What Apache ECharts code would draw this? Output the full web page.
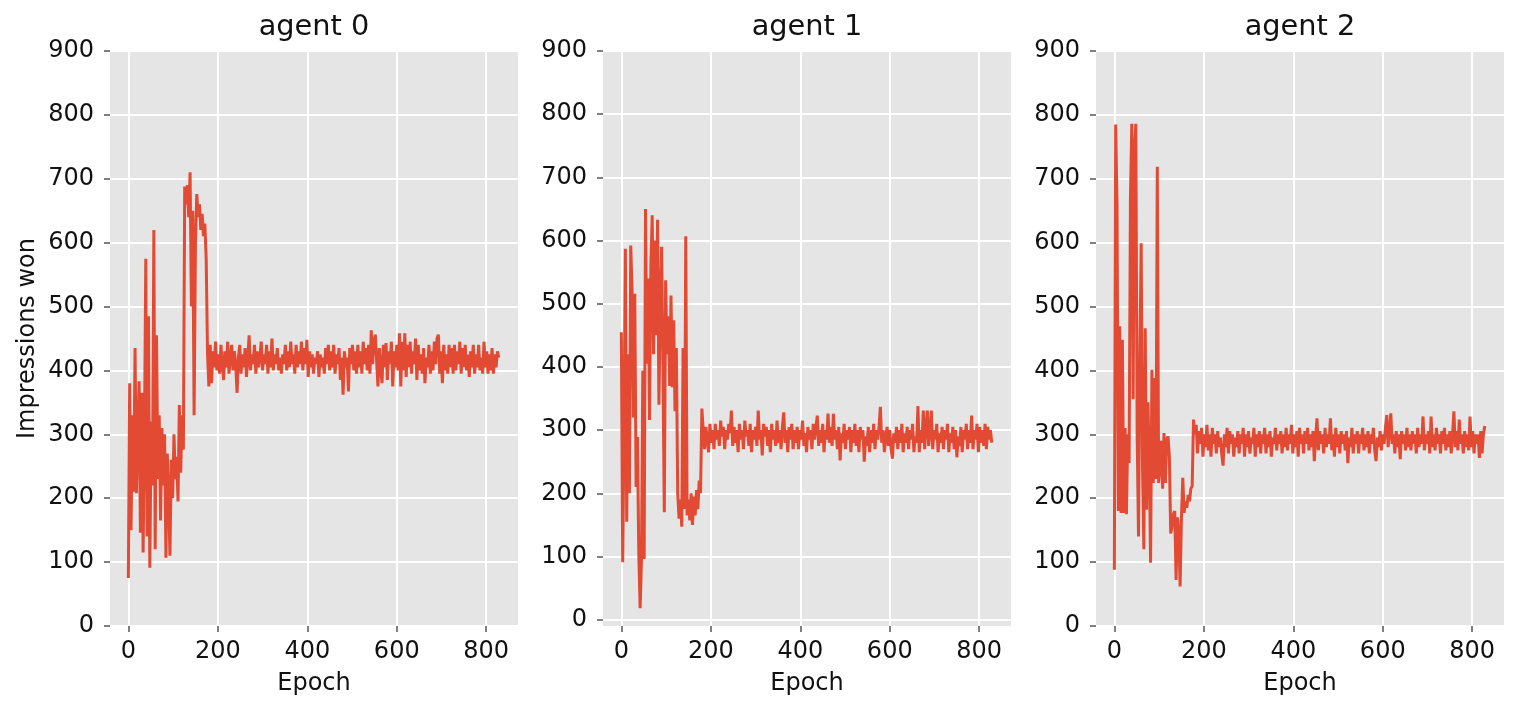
<!DOCTYPE html>
<html>
<head>
<meta charset="utf-8">
<script src="https://cdn.jsdelivr.net/npm/echarts@6/dist/echarts.min.js"></script>
<style>
html,body{margin:0;padding:0;background:#fff;}
#chart{width:1528px;height:714px;}
</style>
</head>
<body>
<div id="chart"></div>
<script>
const epochStep = 3;
const titles = ['agent 0', 'agent 1', 'agent 2'];
const xTicks = [0, 200, 400, 600, 800];
const yTicks = [0, 100, 200, 300, 400, 500, 600, 700, 800, 900];
const yLabel = 'Impressions won';
const xLabel = 'Epoch';

const agent0 = [
  // 0 - 27
  75, 380, 150, 330, 210, 435, 208, 300, 383, 146,
  // 30 - 57
  365, 115, 300, 575, 140, 485, 91, 320, 220, 620,
  // 60 - 87
  120, 455, 230, 330, 165, 310, 220, 300, 107, 270,
  // 90 - 117
  210, 110, 260, 200, 300, 230, 265, 195, 346, 240,
  // 120 - 147
  330, 276, 688, 660, 690, 640, 710, 500, 650, 330,
  // 150 - 177
  600, 676, 640, 660, 620, 645, 610, 630, 575, 427,
  // 180
  375,
  // 183 - 210
  440, 380, 430, 405, 445, 400, 425, 395, 440, 410,
  385, 430, 405, 445, 395, 420, 440, 400, 430, 410,
  365, 420, 440, 395, 425, 405, 435, 390, 420, 455,
  400, 425, 410, 440, 395, 430, 405, 420, 445, 400,
  425, 410, 440, 395, 430, 405, 450, 400, 425, 410,
  435, 400, 420, 395, 425, 410, 440, 400, 430, 405,
  445, 410, 425, 395, 440, 405, 430, 410, 445, 400,
  435, 410, 448, 390, 430, 405, 425, 395, 420, 410,
  430, 390, 425, 405, 420, 395, 435, 410, 440, 400,
  430, 405, 440, 395, 425, 410, 435, 385, 420, 362,
  430, 405, 420, 367, 435, 410, 440, 400, 430, 395,
  440, 405, 430, 395, 445, 410, 435, 400, 440, 395,
  463, 410, 445, 456, 415, 375, 435, 405, 380, 440,
  405, 443, 385, 430, 410, 445, 375, 430, 405, 440,
  400, 458, 375, 445, 400, 458, 390, 440, 405, 445,
  395, 430, 410, 450, 385, 440, 400, 425, 395, 435,
  380, 420, 405, 440, 395, 430, 400, 445, 410, 450,
  456, 395, 430, 380, 440, 400, 425, 395, 440, 405,
  435, 395, 440, 400, 430, 410, 445, 395, 435, 405,
  440, 400, 425, 390, 430, 405, 440, 395, 425, 405,
  440, 400, 420, 395, 445, 405, 430, 395, 425, 400,
  // 813 - 828
  435, 395, 425, 405, 430, 420
];

const agent1 = [
  455, 91, 300, 587, 155, 420, 200, 592, 520, 320,
  516, 210, 289, 104, 18, 95, 394, 96, 650, 405,
  540, 316, 560, 640, 420, 600, 450, 633, 340, 500,
  590, 400, 170, 537, 420, 480, 370, 513, 368, 474,
  330, 430, 200, 160, 190, 147, 430, 175, 607, 165,
  190, 157, 200, 150, 195, 165, 205, 175, 220, 200,
  334,
  300, 270, 305, 285, 265, 310, 280, 300, 270, 310,
  285, 300, 275, 315, 290, 305, 270, 300, 285, 310,
  295, 331, 275, 305, 280, 300, 265, 310, 285, 300,
  270, 315, 290, 300, 275, 310, 265, 300, 285, 305,
  275, 331, 285, 300, 260, 310, 290, 305, 275, 300,
  265, 310, 285, 300, 275, 315, 280, 300, 270, 305,
  328, 280, 300, 265, 305, 285, 310, 270, 300, 280,
  305, 270, 300, 285, 315, 275, 295, 265, 305, 285,
  300, 270, 310, 285, 305, 323, 275, 300, 280, 310,
  265, 300, 285, 326, 280, 305, 275, 326, 285, 300,
  270, 305, 252, 295, 280, 310, 270, 300, 285, 305,
  265, 300, 280, 310, 275, 300, 265, 305, 285, 300,
  250, 290, 275, 305, 265, 300, 280, 310, 270, 300,
  285, 305, 337, 280, 300, 265, 290, 305, 275, 300,
  270, 255, 295, 280, 305, 270, 300, 280, 310, 265,
  295, 280, 305, 270, 300, 285, 310, 265, 290, 280,
  338, 265, 300, 280, 331, 270, 305, 331, 275, 300,
  331, 270, 300, 285, 310, 265, 295, 280, 305, 270,
  300, 285, 310, 265, 295, 280, 305, 270, 300, 257,
  290, 275, 305, 265, 300, 285, 310, 270, 300, 280,
  323, 270, 300, 285, 310, 265, 305, 280, 300, 275,
  310, 270, 305, 285, 300, 280
];

const agent2 = [
  88, 785, 660, 180, 469, 177, 448, 177, 310, 175,
  300, 255, 672, 786, 355, 750, 786, 300, 140, 420,
  599, 250, 120, 466, 182, 350, 265, 99, 401, 224,
  388, 230, 719, 224, 250, 290, 215, 302, 224, 290,
  297, 265, 145, 156, 175, 180, 72, 170, 150, 62,
  170, 232, 177, 195, 185, 205, 195, 215, 219, 323,
  300,
  315, 270, 305, 285, 310, 265, 300, 280, 315, 275,
  300, 265, 310, 285, 300, 270, 305, 280, 295, 270,
  251, 300, 280, 310, 270, 305, 285, 300, 265, 295,
  280, 305, 270, 300, 285, 310, 265, 300, 280, 305,
  270, 295, 285, 310, 265, 300, 280, 305, 270, 300,
  285, 310, 270, 300, 280, 305, 265, 295, 285, 310,
  275, 300, 285, 305, 270, 300, 280, 310, 275, 300,
  285, 315, 270, 300, 280, 305, 265, 310, 285, 300,
  270, 305, 285, 310, 275, 300, 280, 305, 258, 295,
  325, 275, 305, 285, 300, 270, 310, 280, 300, 285,
  325, 275, 300, 265, 310, 280, 300, 270, 305, 285,
  300, 275, 305, 255, 295, 280, 310, 270, 300, 285,
  305, 270, 300, 285, 310, 275, 300, 280, 305, 270,
  300, 285, 310, 275, 258, 295, 280, 305, 275, 300,
  285, 310, 330, 280, 305, 333, 285, 300, 270, 305,
  280, 300, 261, 305, 285, 300, 275, 310, 280, 300,
  275, 305, 285, 300, 270, 310, 280, 300, 285, 328,
  275, 300, 285, 305, 270, 328, 280, 300, 275, 310,
  285, 300, 270, 305, 285, 310, 275, 300, 280, 305,
  270, 300, 336, 280, 305, 275, 323, 285, 300, 270,
  305, 280, 300, 275, 328, 280, 305, 270, 300, 285,
  300, 263, 305, 270, 300, 313
];

const seriesValues = [agent0, agent1, agent2];

// ---- layout / style ----
const FONT = 'DejaVu Sans';
const TEXT = '#111111';
const gridLefts = [110, 603, 1096];
const gridTop = 51, gridW = 408, gridH = 575;
const yMins = [0, -10, 0];

const chart = echarts.init(document.getElementById('chart'), null, {renderer: 'canvas'});

const option = {
  animation: false,
  backgroundColor: '#ffffff',
  title: titles.map((t, i) => ({
    text: t,
    left: gridLefts[i] + gridW / 2,
    top: 13,
    textAlign: 'center',
    padding: 0,
    textStyle: {fontFamily: FONT, fontSize: 28.8, fontWeight: 'normal', color: TEXT}
  })),
  grid: gridLefts.map(l => ({
    left: l, top: gridTop, width: gridW, height: gridH,
    show: true, backgroundColor: '#E5E5E5', borderWidth: 0, containLabel: false
  })),
  xAxis: gridLefts.map((l, i) => ({
    gridIndex: i, type: 'value', min: -41, max: 871, splitNumber: 5,
    axisLine: {show: false, onZero: false},
    axisTick: {show: true, customValues: xTicks, length: 6, lineStyle: {color: '#555', width: 1.5}},
    axisLabel: {customValues: xTicks, margin: 14, fontSize: 24, fontFamily: FONT, color: TEXT},
    splitLine: {show: true, lineStyle: {color: '#ffffff', width: 2}},
    name: xLabel, nameLocation: 'middle', nameGap: 46,
    nameTextStyle: {fontSize: 24, fontFamily: FONT, color: TEXT}
  })),
  yAxis: gridLefts.map((l, i) => ({
    gridIndex: i, type: 'value', min: yMins[i], max: 900, splitNumber: 9,
    axisLine: {show: false, onZero: false},
    axisTick: {show: true, customValues: yTicks, length: 6, lineStyle: {color: '#555', width: 1.5}},
    axisLabel: {customValues: yTicks, margin: 16, fontSize: 24, fontFamily: FONT, color: TEXT},
    splitLine: {show: true, lineStyle: {color: '#ffffff', width: 2}},
    name: i === 0 ? yLabel : '', nameLocation: 'middle', nameGap: 70,
    nameTextStyle: {fontSize: 24, fontFamily: FONT, color: TEXT}
  })),
  series: seriesValues.map((vals, i) => ({
    type: 'line',
    xAxisIndex: i, yAxisIndex: i,
    data: vals.map((v, k) => [k * epochStep, v]),
    showSymbol: false,
    symbol: 'none',
    lineStyle: {color: '#E24A33', width: 3},
    itemStyle: {color: '#E24A33'},
    silent: true
  }))
};

chart.setOption(option);
</script>
</body>
</html>
